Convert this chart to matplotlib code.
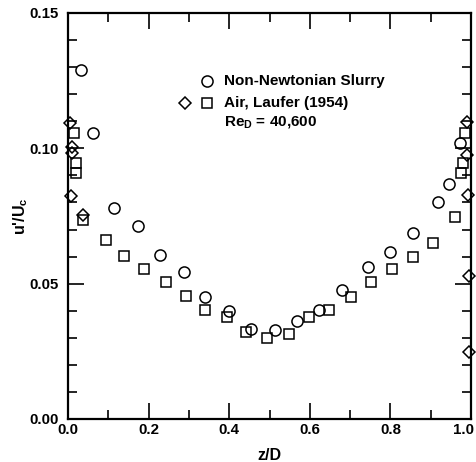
import matplotlib
matplotlib.use("Agg")
import matplotlib.pyplot as plt
from matplotlib.ticker import MultipleLocator
from matplotlib.transforms import ScaledTranslation

plt.rcParams["font.family"] = ["Liberation Sans", "DejaVu Sans"]
plt.rcParams["font.weight"] = "bold"
plt.rcParams["mathtext.fontset"] = "custom"
plt.rcParams["mathtext.rm"] = "Liberation Sans:bold"
plt.rcParams["mathtext.it"] = "Liberation Sans:bold"
plt.rcParams["mathtext.bf"] = "Liberation Sans:bold"

# Non-Newtonian slurry, turbulence intensity across the pipe
slurry_z = [0.032, 0.061, 0.115, 0.173, 0.228, 0.287, 0.340, 0.400, 0.454,
            0.514, 0.567, 0.623, 0.680, 0.744, 0.799, 0.857, 0.917, 0.945, 0.973]
slurry_u = [0.129, 0.1057, 0.0781, 0.0713, 0.0606, 0.0544, 0.0450, 0.0399, 0.0333,
            0.0329, 0.0363, 0.0403, 0.0477, 0.0560, 0.0618, 0.0686, 0.0803, 0.0867, 0.1019]

# Air, Laufer (1954) - main traverse
air_z = [0.015, 0.019, 0.020, 0.037, 0.094, 0.139, 0.189, 0.243, 0.294, 0.340,
         0.394, 0.442, 0.495, 0.548, 0.599, 0.648, 0.702, 0.752, 0.804, 0.855,
         0.905, 0.961, 0.974, 0.979, 0.986]
air_u = [0.1056, 0.0947, 0.0908, 0.0735, 0.0661, 0.0602, 0.0554, 0.0507, 0.0456, 0.0403,
         0.0376, 0.0323, 0.0300, 0.0314, 0.0376, 0.0403, 0.0452, 0.0507, 0.0553, 0.0600,
         0.0651, 0.0745, 0.0908, 0.0945, 0.1056]

# Air, Laufer (1954) - near-wall points
wall_z = [0.006, 0.009, 0.009, 0.007, 0.036, 0.990, 0.991, 0.993, 0.995, 0.995]
wall_u = [0.1094, 0.1006, 0.0982, 0.0824, 0.0755, 0.1099, 0.0975, 0.0828, 0.0530, 0.0249]

x_ticks = [0.0, 0.2, 0.4, 0.6, 0.8, 1.0]
y_ticks = [0.00, 0.05, 0.10, 0.15]

fig = plt.figure(figsize=(4.76, 4.62), dpi=100)
ax = fig.add_axes([68 / 476, 1 - 419 / 462, 403 / 476, 406 / 462])

mk = dict(linestyle="none", markerfacecolor="none", markeredgecolor="black",
          markeredgewidth=1.1, clip_on=False)
ax.plot(air_z, air_u, marker="s", markersize=7.2, **mk)
ax.plot(wall_z, wall_u, marker="D", markersize=6.0, **mk)
ax.plot(slurry_z, slurry_u, marker="o", markersize=8.0, **mk)

ax.set_xlim(0.0, 1.0)
ax.set_ylim(0.0, 0.15)
ax.set_xticks(x_ticks, [f"{v:.1f}" for v in x_ticks])
ax.set_yticks(y_ticks, [f"{v:.2f}" for v in y_ticks])
ax.xaxis.set_minor_locator(MultipleLocator(0.1))
ax.yaxis.set_minor_locator(MultipleLocator(0.01))

for s in ax.spines.values():
    s.set_linewidth(1.6)

ax.tick_params(which="both", direction="in", top=True, right=True, width=1.2,
               labelsize=10.8)
ax.tick_params(which="major", length=11.5)
ax.tick_params(which="minor", length=6.5)
ax.tick_params(axis="x", pad=3)
ax.tick_params(axis="y", pad=7)

# nudge the "1.0" label left so it stays inside the figure
for lab in ax.get_xticklabels():
    if lab.get_text() == "1.0":
        lab.set_transform(lab.get_transform() +
                          ScaledTranslation(-7 / 100, 0, fig.dpi_scale_trans))

ax.set_xlabel("z/D", fontsize=11.5, fontweight="bold", labelpad=8)
ax.set_ylabel(r"u'/U$_{\mathregular{c}}$", fontsize=11.5, fontweight="bold", labelpad=-1)

# Legend, drawn as text with marker glyphs
def px(x, y):
    return ((x - 68) / 403, (419 - y) / 406)

lk = dict(transform=ax.transAxes, linestyle="none", markerfacecolor="none",
          markeredgecolor="black", markeredgewidth=1.1, clip_on=False)
ax.plot(*px(206.7, 81), marker="o", markersize=8.0, **lk)
ax.plot(*px(185, 103.3), marker="D", markersize=6.0, **lk)
ax.plot(*px(206.7, 103.3), marker="s", markersize=7.2, **lk)

tk = dict(transform=ax.transAxes, fontsize=11, fontweight="bold", va="center", ha="left")
ax.text(*px(224, 81), "Non-Newtonian Slurry", **tk)
ax.text(*px(224, 103.3), "Air, Laufer (1954)", **tk)
ax.text(*px(224, 122), r"Re$_{\mathregular{D}}$ = 40,600", **tk)

fig.savefig("out.png", dpi=100)
